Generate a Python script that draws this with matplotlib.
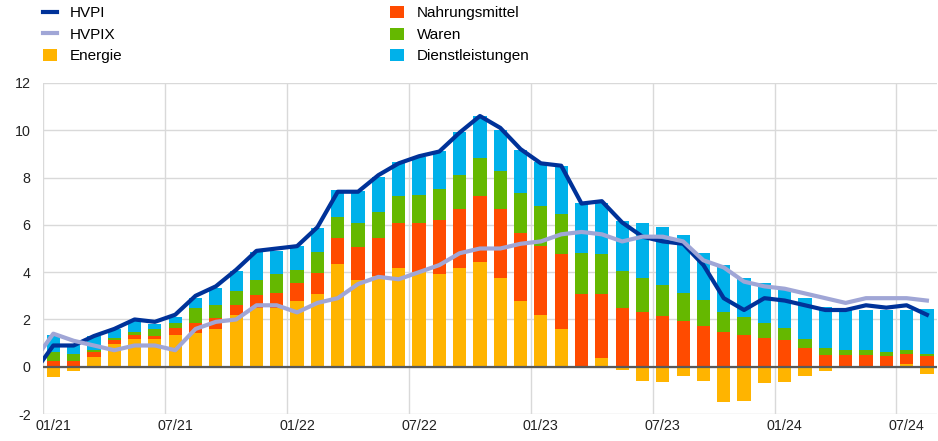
import matplotlib.pyplot as plt
import numpy as np

plt.rcParams['font.family'] = 'Liberation Sans'
plt.rcParams['font.size'] = 10
plt.rcParams['axes.unicode_minus'] = False

# contributions to HICP inflation, 01/21 to 08/24 (percentage points)
contributions = {
    "Energie": [-0.42, -0.17, 0.42, 0.95, 1.16, 1.17, 1.33, 1.44, 1.61, 2.19, 2.50, 2.47,
                2.78, 3.09, 4.36, 3.67, 3.84, 4.17, 4.00, 3.94, 4.17, 4.43, 3.77, 2.78,
                2.19, 1.60, -0.07, 0.37, -0.13, -0.61, -0.65, -0.38, -0.58, -1.48, -1.44, -0.69,
                -0.64, -0.38, -0.16, -0.04, 0.0, 0.0, 0.11, -0.32],
    "Nahrungsmittel": [0.24, 0.25, 0.20, 0.17, 0.17, 0.12, 0.31, 0.42, 0.47, 0.41, 0.52, 0.67,
                       0.78, 0.89, 1.08, 1.39, 1.60, 1.89, 2.06, 2.26, 2.50, 2.77, 2.88, 2.86,
                       2.92, 3.15, 3.09, 2.72, 2.50, 2.33, 2.16, 1.95, 1.74, 1.48, 1.36, 1.20,
                       1.12, 0.78, 0.51, 0.51, 0.51, 0.45, 0.44, 0.45],
    "Waren": [0.38, 0.27, 0.11, 0.09, 0.15, 0.29, 0.22, 0.63, 0.52, 0.59, 0.65, 0.80,
              0.54, 0.86, 0.90, 1.01, 1.11, 1.14, 1.19, 1.31, 1.43, 1.61, 1.61, 1.72,
              1.70, 1.70, 1.70, 1.66, 1.54, 1.44, 1.30, 1.19, 1.07, 0.85, 0.76, 0.66,
              0.50, 0.38, 0.27, 0.21, 0.21, 0.16, 0.17, 0.11],
    "Dienstleistungen": [0.71, 0.43, 0.57, 0.40, 0.46, 0.21, 0.24, 0.43, 0.75, 0.86, 1.19, 0.96,
                         1.01, 1.02, 1.13, 1.35, 1.49, 1.44, 1.61, 1.63, 1.82, 1.81, 1.75, 1.81,
                         1.83, 2.02, 2.13, 2.17, 2.13, 2.30, 2.44, 2.44, 2.02, 1.96, 1.65, 1.70,
                         1.73, 1.76, 1.76, 1.67, 1.68, 1.79, 1.70, 1.88],
}
colours = {"Energie": '#FFB400', "Nahrungsmittel": '#FF4B00',
           "Waren": '#65B800', "Dienstleistungen": '#00B1EA'}

# headline and core rates, starting with 12/20 so the lines come in from the left
hvpi = [-0.3, 0.9, 0.9, 1.3, 1.6, 2.0, 1.9, 2.2, 3.0, 3.4, 4.1, 4.9, 5.0,
        5.1, 5.9, 7.4, 7.4, 8.1, 8.6, 8.9, 9.1, 9.9, 10.6, 10.1, 9.2,
        8.6, 8.5, 6.9, 7.0, 6.1, 5.5, 5.3, 5.2, 4.3, 2.9, 2.4, 2.9,
        2.8, 2.6, 2.4, 2.4, 2.6, 2.5, 2.6, 2.2]
hvpix = [0.2, 1.4, 1.1, 0.9, 0.7, 0.9, 0.9, 0.7, 1.6, 1.9, 2.0, 2.6, 2.6,
         2.3, 2.7, 2.9, 3.5, 3.8, 3.7, 4.0, 4.3, 4.8, 5.0, 5.0, 5.2,
         5.3, 5.6, 5.7, 5.6, 5.3, 5.5, 5.5, 5.3, 4.5, 4.2, 3.6, 3.4,
         3.3, 3.1, 2.9, 2.7, 2.9, 2.9, 2.9, 2.8]

months = np.arange(44) + 0.5
line_x = np.arange(-1, 44) + 0.5

fig = plt.figure(figsize=(9.38, 4.41))
plt.axes([0.046, 0.061, 0.953, 0.751])

# stacking the bars, positive parts upwards and negative parts downwards
pos_bottom = np.zeros(44)
neg_bottom = np.zeros(44)
bars = {}
for name, values in contributions.items():
    values = np.array(values)
    bottom = np.where(values >= 0, pos_bottom, neg_bottom)
    bars[name] = plt.bar(months, values, width=0.65, bottom=bottom, color=colours[name], label=name)
    pos_bottom += np.clip(values, 0, None)
    neg_bottom += np.clip(values, None, 0)

plt.axhline(0, color='#595959', linewidth=1.6)

# plotting the inflation lines
hvpi_line, = plt.plot(line_x, hvpi, color='#003299', linewidth=3, label="HVPI")
hvpix_line, = plt.plot(line_x, hvpix, color='#A0A6D6', linewidth=3, label="HVPIX")

ax = plt.gca()
ax.set_xlim(0, 44)
ax.set_ylim(-2, 12)
ax.set_yticks(range(-2, 13, 2))
ax.set_xticks(np.arange(0, 44, 6))
ax.set_xticklabels([])
ax.set_xticks(np.arange(0.5, 44, 6), minor=True)
ax.set_xticklabels(['01/21', '07/21', '01/22', '07/22', '01/23', '07/23', '01/24', '07/24'], minor=True)
ax.tick_params(which='both', length=0, labelsize=10.3, colors='#222222')
ax.tick_params(axis='x', which='minor', pad=3.5)
ax.tick_params(axis='y', pad=9)
ax.grid(which='major', color='#D9D9D9', linewidth=1)
ax.set_axisbelow(True)
for spine in ax.spines.values():
    spine.set_visible(False)

handles = [hvpi_line, hvpix_line, bars["Energie"], bars["Nahrungsmittel"], bars["Waren"], bars["Dienstleistungen"]]
fig.legend(handles, [h.get_label() for h in handles], loc='upper left', bbox_to_anchor=(0.0393, 1.0),
           ncol=2, frameon=False, handlelength=0.9, handleheight=0.85, handletextpad=0.86,
           columnspacing=17.5, labelspacing=0.46, borderaxespad=0, fontsize=11)

plt.savefig('out.png', dpi=100)
